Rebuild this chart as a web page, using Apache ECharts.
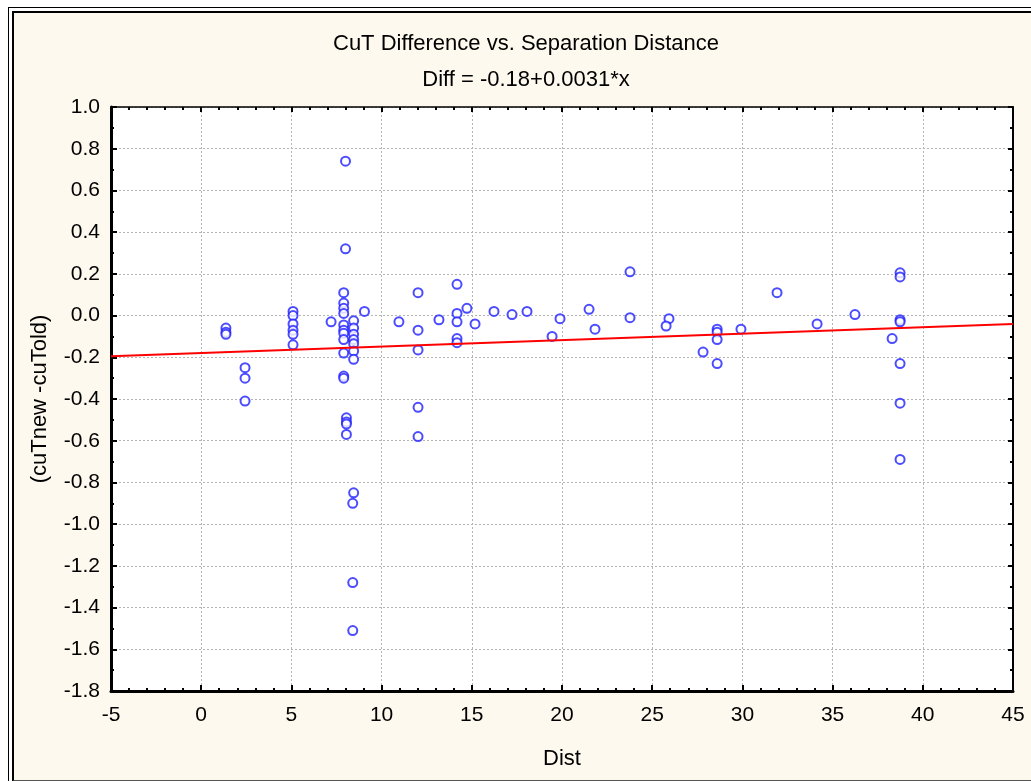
<!DOCTYPE html>
<html>
<head>
<meta charset="utf-8">
<script src="https://cdn.jsdelivr.net/npm/echarts@6/dist/echarts.min.js"></script>
<style>
  body { margin: 0; background: #fff; }
  #outer { position: absolute; left: 8px; top: 7px; width: 1100px; height: 1000px; border: 1px solid #000; }
  #inner { position: absolute; left: 12px; top: 11px; width: 1100px; height: 767px;
           border: 2px solid #000; border-bottom: 2px solid #555; background: #fef9ee; }
  #echart { position: absolute; left: 0; top: 0; width: 1031px; height: 781px; }
</style>
</head>
<body>
<div id="outer"></div>
<div id="inner"></div>
<div id="echart"></div>
<script>
// separation distance (x) and CuT difference (y)
const distX = [
  1.37, 1.37, 1.37, 2.43, 2.43, 2.43,
  5.09, 5.09, 5.09, 5.09, 5.09, 5.09,
  7.2, 7.9, 7.9, 7.9, 7.9, 7.9, 7.9, 7.9, 7.9, 7.9, 7.9, 7.9,
  8.0, 8.0, 8.05, 8.05, 8.05, 8.05,
  8.45, 8.45, 8.45, 8.45, 8.45, 8.45, 8.45, 8.45, 8.4, 8.4, 8.4,
  9.05, 10.96, 12.02, 12.02, 12.02, 12.02, 12.02, 13.18,
  14.18, 14.18, 14.18, 14.18, 14.18, 14.73, 15.18, 16.23, 17.23, 18.06,
  19.45, 19.89, 21.5, 21.83, 23.77, 23.77, 25.93, 25.77, 27.82,
  28.6, 28.6, 28.6, 28.6, 29.92, 31.92, 34.14, 36.24,
  38.3, 38.74, 38.74, 38.74, 38.74, 38.74, 38.74, 38.74
];
const diffY = [
  -0.06, -0.08, -0.09, -0.25, -0.30, -0.41,
  0.02, 0.00, -0.04, -0.07, -0.09, -0.14,
  -0.03, 0.11, 0.06, 0.035, 0.01, -0.045, -0.07, -0.085, -0.115, -0.18, -0.29, -0.30,
  0.74, 0.32, -0.49, -0.51, -0.52, -0.57,
  -0.025, -0.06, -0.09, -0.115, -0.135, -0.17, -0.21, -0.85, -0.90, -1.28, -1.51,
  0.02, -0.03, 0.11, -0.07, -0.165, -0.44, -0.58, -0.02,
  0.15, 0.01, -0.03, -0.11, -0.13, 0.035, -0.04, 0.02, 0.005, 0.02,
  -0.10, -0.015, 0.03, -0.065, 0.21, -0.01, -0.015, -0.05, -0.175,
  -0.065, -0.08, -0.115, -0.23, -0.065, 0.11, -0.04, 0.005,
  -0.11, 0.205, 0.185, -0.02, -0.03, -0.23, -0.42, -0.69
];
// fitted line ends: Diff = -0.18+0.0031*x
const fitX = [-5, 45];
const fitY = [-0.1955, -0.0405];

const font = "'Liberation Sans', Arial, sans-serif";
const chart = echarts.init(document.getElementById("echart"));

// top / right frame: ticks only, no labels
const frameAxis = {
  axisLine: { show: true, onZero: false, lineStyle: { color: "#000", width: 1.5 } },
  axisTick: { show: true, inside: true, length: 5, lineStyle: { color: "#000", width: 2 } },
  axisLabel: { show: false },
  splitLine: { show: false }
};
const gridLine = { show: true, lineStyle: { color: "#b4b4b4", type: [2, 2], width: 1 } };

chart.setOption({
  backgroundColor: "transparent",
  animation: false,
  title: [
    { text: "CuT Difference vs. Separation Distance", left: 526, top: 33, textAlign: "center", padding: 0,
      textStyle: { fontFamily: font, fontSize: 22, fontWeight: "normal", color: "#000" } },
    { text: "Diff = -0.18+0.0031*x", left: 526, top: 69, textAlign: "center", padding: 0,
      textStyle: { fontFamily: font, fontSize: 22, fontWeight: "normal", color: "#000" } }
  ],
  grid: { left: 111, top: 107, width: 902, height: 584, show: true, backgroundColor: "#fff", borderWidth: 0 },
  xAxis: [
    {
      type: "value", min: -5, max: 45, interval: 5,
      minorTick: { show: true, splitNumber: 5, length: 3, lineStyle: { color: "#000", width: 2 } },
      name: "Dist", nameLocation: "middle", nameGap: 57,
      nameTextStyle: { fontFamily: font, fontSize: 22, color: "#000" },
      axisLine: { onZero: false, lineStyle: { color: "#000", width: 3 } },
      axisTick: { inside: true, length: 6, lineStyle: { color: "#000", width: 2 } },
      axisLabel: { fontFamily: font, fontSize: 21, color: "#000", margin: 14 },
      splitLine: gridLine
    },
    Object.assign({ type: "value", position: "top", min: -5, max: 45, interval: 5 }, frameAxis,
      { minorTick: { show: true, splitNumber: 5, length: 3, lineStyle: { color: "#000", width: 2 } } })
  ],
  yAxis: [
    {
      type: "value", min: -1.8, max: 1.0, interval: 0.2,
      minorTick: { show: true, splitNumber: 2, length: 3, lineStyle: { color: "#000", width: 2 } },
      name: "(cuTnew -cuTold)", nameLocation: "middle", nameGap: 60, nameRotate: 90,
      nameTextStyle: { fontFamily: font, fontSize: 22, color: "#000" },
      axisLine: { show: true, onZero: false, lineStyle: { color: "#000", width: 3 } },
      axisTick: { show: true, inside: true, length: 6, lineStyle: { color: "#000", width: 2 } },
      axisLabel: { fontFamily: font, fontSize: 21, color: "#000", margin: 11, formatter: v => v.toFixed(1) },
      splitLine: gridLine
    },
    Object.assign({ type: "value", position: "right", min: -1.8, max: 1.0, interval: 0.2 }, frameAxis,
      { minorTick: { show: true, splitNumber: 2, length: 3, lineStyle: { color: "#000", width: 2 } },
        axisLine: { show: true, onZero: false, lineStyle: { color: "#000", width: 2 } } })
  ],
  series: [
    {
      type: "scatter",
      symbol: "emptyCircle",
      symbolSize: 9,
      itemStyle: { color: "#1f1fff", borderWidth: 1.2 },
      data: distX.map((x, i) => [x, diffY[i]]),
      z: 2
    },
    {
      type: "line",
      showSymbol: false,
      lineStyle: { color: "#ff0000", width: 2 },
      data: fitX.map((x, i) => [x, fitY[i]]),
      z: 3
    }
  ]
});
</script>
</body>
</html>
